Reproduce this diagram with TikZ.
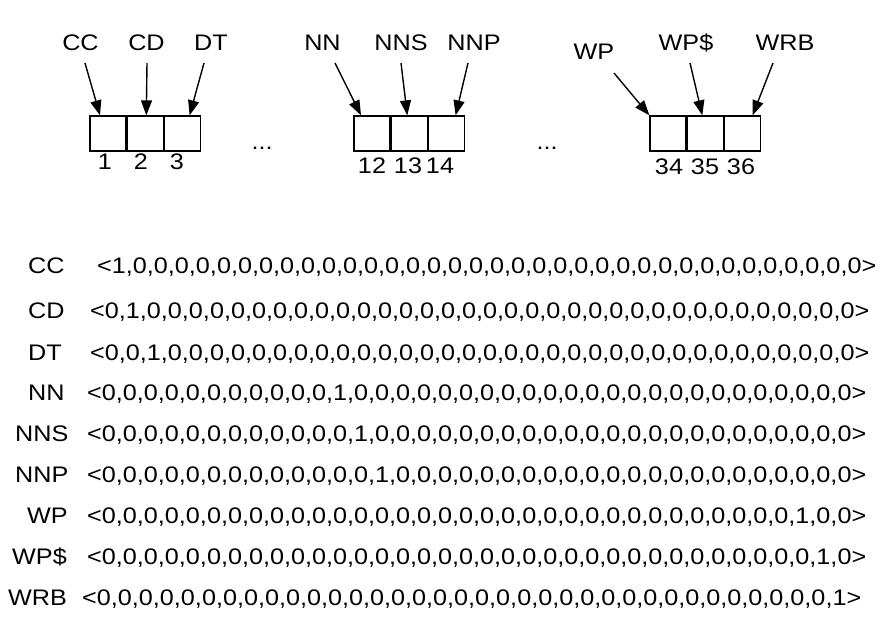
\documentclass[tikz,border=0pt]{standalone}
\usepackage{fontspec}
\setmainfont{Liberation Sans}[FakeStretch=1.12]
\usetikzlibrary{positioning}
\usetikzlibrary{arrows.meta}

% one-hot vector of length 36
\newcommand{\onehot}[1]{<\foreach \k in {1,...,36}{\ifnum\k>1 ,\fi\ifnum\k=#1 1\else 0\fi}>}

\begin{document}
\begin{tikzpicture}[x=1pt,y=-1pt,>={Triangle[length=15pt,width=11pt]},
	every node/.style={font=\fontsize{22.5}{26}\selectfont},
	tag/.style={anchor=base,inner sep=0pt},
	cell/.style={draw,line width=1.3pt,minimum width=36pt,minimum height=35pt,inner sep=0pt},
	num/.style={anchor=base,inner sep=0pt},
	vec/.style={anchor=base west,inner sep=0pt},
	pointer/.style={->,line width=1.4pt}]
	
	\useasboundingbox (0,0) rectangle (891,621);
	
	% tags above the slots
	\node[tag] (tCC) at (80.5,50) {CC};
	\node[tag] (tCD) at (146.5,50) {CD};
	\node[tag] (tDT) at (211,50) {DT};
	\node[tag] (tNN) at (322.5,50) {NN};
	\node[tag] (tNNS) at (401,50) {NNS};
	\node[tag] (tNNP) at (474,50) {NNP};
	\node[tag] (tWP) at (594,59) {WP};
	\node[tag] (tWPS) at (686,50) {WP\$};
	\node[tag] (tWRB) at (785,50) {WRB};
	
	% slots
	\node[cell] (c1) at (108,133.5) {};
	\node[cell] (c2) [right=0pt of c1] {};
	\node[cell] (c3) [right=0pt of c2] {};
	\node[cell] (c12) at (372,133.5) {};
	\node[cell] (c13) [right=0pt of c12] {};
	\node[cell] (c14) [right=0pt of c13] {};
	\node[cell] (c34) at (668,133.5) {};
	\node[cell] (c35) [right=0pt of c34] {};
	\node[cell] (c36) [right=0pt of c35] {};
	
	\node[num] (n1) at (105,169) {1};
	\node[num] (n2) at (141,169) {2};
	\node[num] (n3) at (177,169) {3};
	\node[num] (n12) at (372,173) {12};
	\node[num] (n13) at (408,173) {13};
	\node[num] (n14) at (440,173) {14};
	\node[num] (n34) at (669,174) {34};
	\node[num] (n35) at (705,174) {35};
	\node[num] (n36) at (741,174) {36};
	
	\node[tag] (d1) at (262,149) {...};
	\node[tag] (d2) at (547,149) {...};
	
	\draw[pointer] ([shift={(4.5,13)}]tCC.base) -- ([xshift=-8pt]c1.north);
	\draw[pointer] ([shift={(0.5,13)}]tCD.base) -- ([xshift=1pt]c2.north);
	\draw[pointer] ([shift={(-7,13)}]tDT.base) -- ([xshift=7pt]c3.north);
	\draw[pointer] ([shift={(12.5,13)}]tNN.base) -- ([xshift=-11pt]c12.north);
	\draw[pointer] ([shift={(0,13)}]tNNS.base) -- ([xshift=-2pt]c13.north);
	\draw[pointer] ([shift={(-6,13)}]tNNP.base) -- ([xshift=9pt]c14.north);
	\draw[pointer] ([shift={(20,14)}]tWP.base) -- (c34.north west);
	\draw[pointer] ([shift={(4,13)}]tWPS.base) -- ([xshift=-3pt]c35.north);
	\draw[pointer] ([shift={(-12,13)}]tWRB.base) -- ([xshift=10pt]c36.north);
	
	% one-hot rows
	\node[vec] (lCC) at (28,273) {CC};
	\node[vec] (vCC) at (97,273) {\onehot{1}};
	\node[vec] (lCD) at (28,318) {CD};
	\node[vec] (vCD) at (90,318) {\onehot{2}};
	\node[vec] (lDT) at (28,360) {DT};
	\node[vec] (vDT) at (90,360) {\onehot{3}};
	\node[vec] (lNN) at (28,400) {NN};
	\node[vec] (vNN) at (87,400) {\onehot{12}};
	\node[vec] (lNNS) at (15,441) {NNS};
	\node[vec] (vNNS) at (87,441) {\onehot{13}};
	\node[vec] (lNNP) at (15,482) {NNP};
	\node[vec] (vNNP) at (87,482) {\onehot{14}};
	\node[vec] (lWP) at (27,523) {WP};
	\node[vec] (vWP) at (87,523) {\onehot{34}};
	\node[vec] (lWPS) at (12,564) {WP\$};
	\node[vec] (vWPS) at (87,564) {\onehot{35}};
	\node[vec] (lWRB) at (8,605) {WRB};
	\node[vec] (vWRB) at (82,605) {\onehot{36}};
\end{tikzpicture}
\end{document}
